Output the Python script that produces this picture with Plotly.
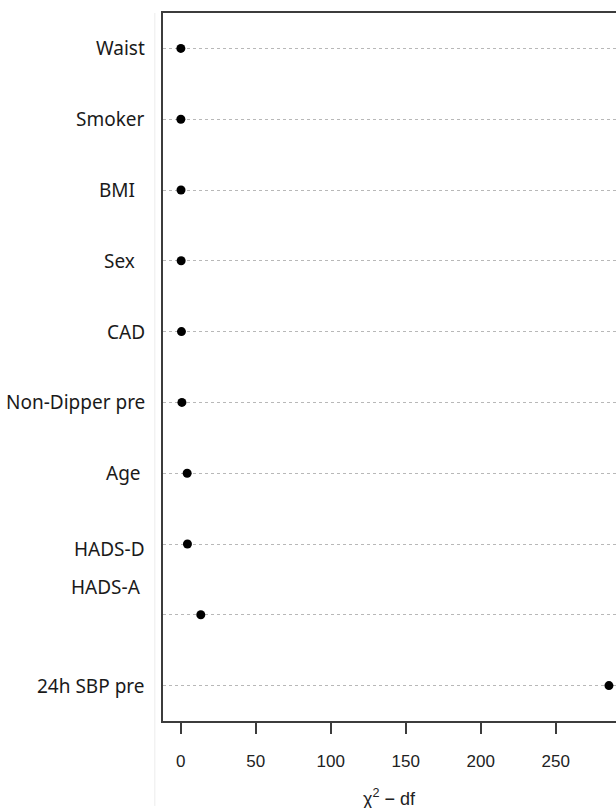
import plotly.graph_objects as go

# Variables ordered top to bottom, with chi-square minus degrees of freedom
variables = ["Waist", "Smoker", "BMI", "Sex", "CAD", "Non-Dipper pre",
             "Age", "HADS-D", "HADS-A", "24h SBP pre"]
chi2_minus_df = [0.1, 0.1, 0.2, 0.3, 0.5, 0.8, 4.3, 4.5, 13.4, 285.5]

x_ticks = [0, 50, 100, 150, 200, 250]

# Printed row labels (padding keeps the original ragged right edge)
row_labels = {
    "Waist": "Waist", "Smoker": "Smoker", "BMI": "BMI\u00a0\u00a0",
    "Sex": "Sex\u00a0\u00a0", "CAD": "CAD", "Non-Dipper pre": "Non-Dipper pre",
    "Age": "Age\u00a0", "HADS-D": "HADS-D", "HADS-A": "HADS-A\u00a0",
    "24h SBP pre": "24h SBP pre",
}
# Vertical nudges (px) for labels that sit off their dotted line
label_nudge = {"HADS-D": -5, "HADS-A": 28}

fig = go.Figure()
fig.add_trace(go.Scatter(
    x=chi2_minus_df, y=variables, mode="markers",
    marker=dict(color="black", size=9),
    showlegend=False, cliponaxis=False,
))

for v in variables:
    fig.add_annotation(
        x=-0.035, xref="paper", y=v, yref="y",
        text=row_labels[v], showarrow=False,
        xanchor="right", yanchor="middle",
        yshift=label_nudge.get(v, 0),
        font=dict(family="Noto Sans", size=19, color="#1a1a1a"),
    )

# x-axis title
fig.add_annotation(
    x=0.5, xref="paper", y=-0.108, yref="paper",
    text="χ<sup>2</sup> − df", showarrow=False,
    xanchor="center", yanchor="middle",
    font=dict(family="Liberation Sans", size=18, color="#222"),
)

# faint panel edge on the left
fig.add_shape(type="line", xref="paper", yref="paper",
              x0=-0.018, x1=-0.018, y0=-0.12, y1=1.0,
              line=dict(color="#ececec", width=1))

fig.update_xaxes(
    range=[-11.8, 290.2], tickvals=x_ticks,
    showline=True, linecolor="#3c3c3c", linewidth=2, mirror=True,
    ticks="outside", ticklen=11, tickwidth=2, tickcolor="#3c3c3c",
    ticklabelstandoff=13,
    tickfont=dict(family="Liberation Sans", size=17, color="#222"),
    showgrid=False, zeroline=False,
)
fig.update_yaxes(
    type="category", categoryorder="array", categoryarray=variables,
    range=[9.5, -0.5], showticklabels=False, ticks="",
    showline=True, linecolor="#3c3c3c", linewidth=2, mirror=False,
    showgrid=True, gridcolor="#b8b8b8", gridwidth=1, griddash="3px,3px",
    zeroline=False,
)

fig.update_layout(
    width=616, height=808,
    margin=dict(l=163, r=0, t=13, b=87),
    paper_bgcolor="white", plot_bgcolor="white",
)

fig.write_html("out.html")
